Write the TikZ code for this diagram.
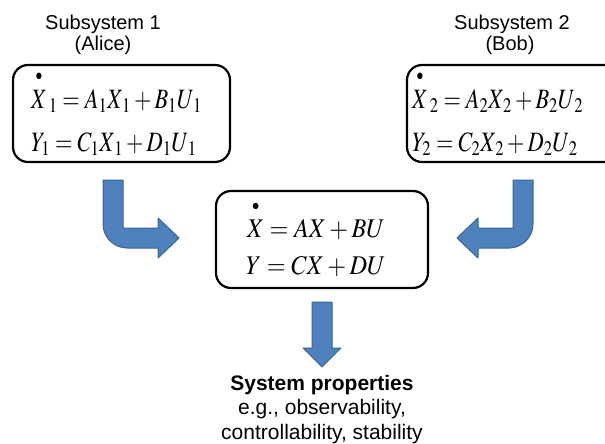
\documentclass[tikz,border=0pt]{standalone}
\usepackage{amsmath}
\usepackage{graphicx}
\usepackage{mathptmx}
\usepackage[no-math]{fontspec}
\setmainfont{Liberation Sans}
\newcommand{\dotX}[1]{\overset{\raisebox{4pt}{$\scriptscriptstyle\bullet$}}{#1}}
\newcommand{\narrow}[2]{\scalebox{#1}[1]{#2}}
\definecolor{arrowfill}{HTML}{4F81BD}
\definecolor{arrowline}{HTML}{3A6494}
\tikzset{
  sysbox/.style={draw=black, line width=2.2pt, rounded corners=15pt, fill=white},
  blockarrow/.style={fill=arrowfill, draw=arrowline, line width=1pt, line join=round},
  title/.style={font=\fontsize{20}{24}\selectfont, inner sep=0pt, anchor=base},
  eq/.style={font=\fontsize{28}{32}\selectfont, inner sep=0pt, anchor=base west},
  ceq/.style={font=\fontsize{27}{30}\selectfont, inner sep=0pt, anchor=base west},
  note/.style={font=\fontsize{21}{24}\selectfont, inner sep=0pt, anchor=base}
}
\begin{document}
\begin{tikzpicture}[x=1pt, y=-1pt]
  \clip (0,0) rectangle (605,444);
  \fill[white] (0,0) rectangle (605,444);

  % subsystem titles
  \node[title] (t1a) at (103,30) {Subsystem 1};
  \node[title] (t1b) at (103,51) {(Alice)};
  \node[title] (t2a) at (512,30) {Subsystem 2};
  \node[title] (t2b) at (510,51) {(Bob)};

  % subsystem boxes
  \draw[sysbox] (13,65) rectangle (230,162);
  \draw[sysbox] (407,65) rectangle (625,162);

  % subsystem equations
  \node[eq] (e1a) at (31,108) {\narrow{0.8}{$\dotX{X}_{\,1} = A_1X_{\,1} + B_1U_{\,1}$}};
  \node[eq] (e1b) at (31,151) {\narrow{0.8}{$Y_1 = C_1X_{\,1} + D_1U_{\,1}$}};
  \node[eq] (e2a) at (412,108) {\narrow{0.8}{$\dotX{X}_{\,2} = A_2X_{\,2} + B_2U_{\,2}$}};
  \node[eq] (e2b) at (412,151) {\narrow{0.8}{$Y_2 = C_2X_{\,2} + D_2U_{\,2}$}};

  % combined system
  \draw[sysbox] (216,191) rectangle (428,288);
  \node[ceq] (ca) at (247,237) {\narrow{0.9}{$\dotX{X} = AX + BU$}};
  \node[ceq] (cb) at (246,274) {\narrow{0.9}{$Y = CX + DU$}};

  % bent arrow from the left subsystem
  \draw[blockarrow] (103,180) -- (123,180) -- (123,228) -- (158,228) -- (158,218)
    -- (179,238) -- (158,258) -- (158,248) -- (127,248)
    .. controls (113.8,248) and (103,237.2) .. (103,224) -- cycle;
  % bent arrow from the right subsystem
  \draw[blockarrow] (533,180) -- (513,180) -- (513,228) -- (478,228) -- (478,218)
    -- (457,238) -- (478,258) -- (478,248) -- (509,248)
    .. controls (522.2,248) and (533,237.2) .. (533,224) -- cycle;
  % arrow down to the properties
  \draw[blockarrow] (312,302) -- (332,302) -- (332,348) -- (341,348) -- (322,367)
    -- (303,348) -- (312,348) -- cycle;

  % system properties
  \node[note, font=\fontsize{21}{24}\selectfont\bfseries] (p1) at (322,390) {System properties};
  \node[note] (p2) at (322,414) {e.g., observability,};
  \node[note] (p3) at (322,439) {controllability, stability};
\end{tikzpicture}
\end{document}
